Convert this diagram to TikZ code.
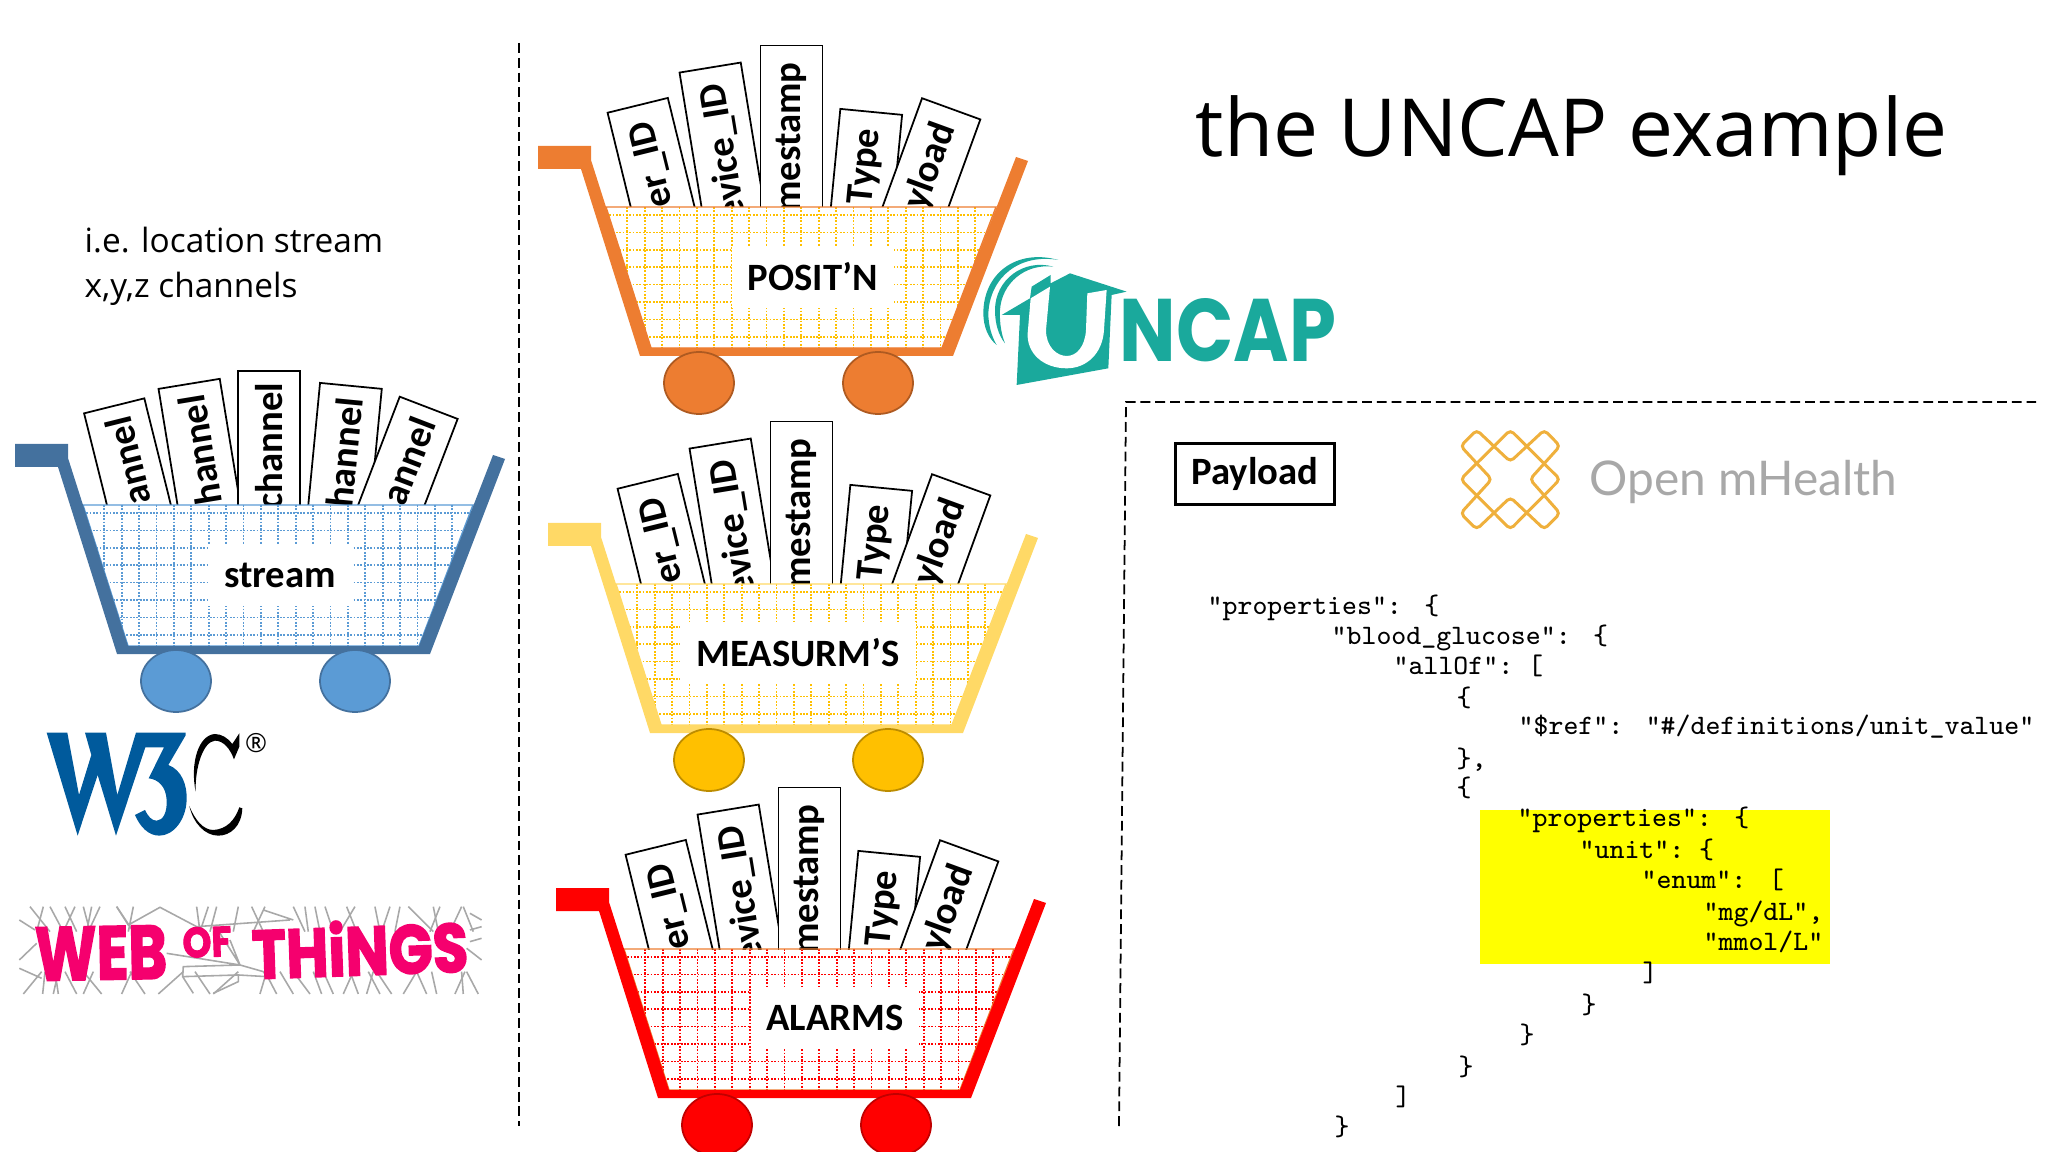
\documentclass[tikz,border=0pt]{standalone}
\usepackage{fontspec}
\setmainfont{Open Sans}
\newfontfamily\cartfont{Carlito}
\newfontfamily\logofont{Poppins}
\newfontfamily\wotfont[BoldFeatures={FakeBold=2.5}]{Poppins}
\newfontfamily\omhfont{Lato}

\definecolor{barblue}{HTML}{44719E}
\definecolor{wheelblue}{HTML}{5B9BD5}
\definecolor{barorange}{HTML}{ED7D31}
\definecolor{rimorange}{HTML}{AE5A21}
\definecolor{gridgold}{HTML}{FFC000}
\definecolor{barsand}{HTML}{FFD966}
\definecolor{rimgold}{HTML}{BC8C00}
\definecolor{rimred}{HTML}{C00000}
\definecolor{logoblue}{HTML}{005A9C}
\definecolor{logoteal}{HTML}{1AA99C}
\definecolor{logopink}{HTML}{F5006E}
\definecolor{meshgrey}{HTML}{A8A8A8}
\definecolor{omhgold}{HTML}{EFB03C}
\definecolor{hilite}{HTML}{FFFF00}

\newcommand{\widegap}{\hspace{0.8em}}

\tikzset{
    sheet/.style={draw=black, fill=white, line width=0.5pt, anchor=east, minimum height=0.62cm,
        inner ysep=0pt, text width=2.1cm, align=right,
        font=\cartfont\fontsize{11}{12}\selectfont\bfseries},
    cartlabel/.style={fill=white, inner sep=0pt, minimum height=0.62cm, font=\cartfont\fontsize{11}{12}\selectfont\bfseries},
    codeline/.style={anchor=base west, inner sep=0pt, font=\ttfamily\fontsize{8}{9}\selectfont},
    divider/.style={line width=0.5pt, dash pattern=on 2.8pt off 1.4pt}
}

% five sheets, clipped at the rim of the basket
\newcommand{\cartsheets}[4]{
    \begin{scope}
        \clip (0,250) rectangle (560,505);
        \foreach \n/\sx/\sy/\srot/\stxt in {#2} {
            \node[sheet, rotate=\srot, inner xsep=#4] (#1-\n) at ({\sx},{\sy+(#3)}) {\stxt};
        }
    \end{scope}
}

% args: bar, wheel, rim of wheel, grid, basket edge
\newcommand{\cartframe}[5]{
    \begin{scope}
        \clip (83,505) -- (473,505) -- (419,646) -- (128,646) -- cycle;
        \foreach \k in {0,...,7}
            \draw[#4, line width=0.5pt, dash pattern=on 0.5pt off 0.45pt] (83,513+17.4*\k) -- (473,513+17.4*\k);
        \foreach \k in {0,...,20}
            \draw[#4, line width=0.5pt, dash pattern=on 0.5pt off 0.45pt] (104.3+17.4*\k,505) -- (104.3+17.4*\k,646);
    \end{scope}
    \draw[#5, line width=0.4pt] (83,505) -- (473,505) -- (419,646) -- (128,646) -- cycle;
    \fill[#1] (15,444) -- (68,444) -- (68,458) -- (128,646) -- (419,646) -- (493,455) -- (505,459)
        -- (430,654) -- (117,654) -- (58,467) -- (15,467) -- cycle;
    \draw[#3, fill=#2, line width=0.5pt] (176,681) ellipse [x radius=35, y radius=31];
    \draw[#3, fill=#2, line width=0.5pt] (355,681) ellipse [x radius=35, y radius=31];
}

\begin{document}
\begin{tikzpicture}[x=0.01cm, y=-0.01cm]
    \useasboundingbox (0,0) rectangle (2048,1152);

    % Side texts and title
    \node[anchor=base west, inner sep=0pt, font=\fontsize{9.5}{10}\selectfont] (intro1) at (84,253) {i.e. location stream};
    \node[anchor=base west, inner sep=0pt, font=\fontsize{9.5}{10}\selectfont] (intro2) at (84,298) {x,y,z channels};
    \node[anchor=base west, inner sep=0pt, font=\fontsize{22.8}{24}\selectfont] (title) at (1195,157) {the UNCAP example};

    % Dividers
    \draw[divider] (519,43) -- (519,1126);
    \draw[divider] (1119,1126) -- (1126,402) -- (2036,402);

    % Stream cart
    \cartsheets{stream}{s1/114/405/104/annel, s2/189/383/99.3/hannel, s4/351/385/84.5/hannel, s3/269/370/90/channel, s5/429/407/69/annel}{0}{0.12cm}
    \cartframe{barblue}{wheelblue}{barblue}{wheelblue}{wheelblue}
    \node[cartlabel, minimum width=1.44cm] (streamlabel) at (280,575) {stream};

    % Data carts
    \foreach \cartid/\dx/\dy/\sdy/\barc/\wheelc/\rimc/\gridc/\edgec in {
        posit/523/-298/-2/barorange/barorange/rimorange/gridgold/barorange,
        meas/533/79/-3/barsand/gridgold/rimgold/gridgold/barsand,
        alarm/541/444/-2/red/red/rimred/red/barorange} {
        \begin{scope}[shift={(\dx,\dy)}]
            \cartsheets{\cartid}{s1/114.5/404.5/103.8/er\_ID, s2/187/366.7/99.3/evice\_ID, s4/348.3/411/84.5/Type, s3/268.5/344.7/90/mestamp, s5/428.5/408/70/yload}{\sdy}{0.17cm}
            \cartframe{\barc}{\wheelc}{\rimc}{\gridc}{\edgec}
        \end{scope}
    }
    \node[cartlabel, minimum width=1.62cm] (positlabel) at (813,277) {POSIT’N};
    \node[cartlabel, minimum width=2.35cm] (measlabel) at (798,653) {MEASURM’S};
    \node[cartlabel, minimum width=1.68cm] (alarmlabel) at (835,1018) {ALARMS};

    % W3C logo
    \begin{scope}[shift={(30,720)}, scale=0.3333]
        \fill[logoblue] (50,38) -- (112,38) -- (147,225) -- (184,105) -- (165,38) -- (228,38) -- (262,225) -- (318,38)
            -- (467,38) -- (467,46) -- (415,135) .. controls (455,150) and (472,195) .. (470,240)
            .. controls (468,300) and (430,347) .. (388,347) .. controls (355,347) and (330,320) .. (315,285)
            -- (345,270) .. controls (355,290) and (365,302) .. (380,302) .. controls (400,302) and (412,275) .. (410,240)
            .. controls (408,200) and (385,178) .. (356,175) -- (402,82) -- (346,82) -- (258,347) -- (203,165) -- (143,347) -- cycle;
        \fill[black] (497,215) .. controls (480,130) and (505,45) .. (555,42) .. controls (575,42) and (595,55) .. (607,72)
            -- (628,40) -- (628,80) -- (612,118) .. controls (600,85) and (580,62) .. (555,62) .. controls (520,65) and (495,140) .. (497,215) -- cycle;
        \fill[black] (478,258) .. controls (490,310) and (525,347) .. (565,347) .. controls (600,347) and (635,320) .. (637,265)
            -- (628,262) .. controls (615,300) and (590,328) .. (550,330) .. controls (520,330) and (495,300) .. (478,258) -- cycle;
    \end{scope}
    \node[inner sep=0pt, font=\fontsize{7.5}{8}\selectfont] (w3creg) at (256,743) {®};

    % Web of Things mesh and lettering
    \begin{scope}[shift={(0,700)}, scale=0.3333, meshgrey, line width=0.45pt]
        \foreach \xa/\xb in {90/150,130/110,150/190,195/230,225/190,250/270,275/260,300/265,350/400,400/385,
            590/600,625/600,650/630,715/700,755/790,795/760,880/915,915/925,945/960,975/1000,1040/1070,1065/1020,
            1125/1140,1170/1145,1200/1185,1225/1300,1300/1315,1320/1290,1385/1350,1390/1420} {
            \draw (\xa,620) -- (\xb,695);
        }
        \foreach \xa/\xb in {70/125,128/135,160/175,175/165,230/195,250/280,305/250,365/395,435/390,475/550,
            630/585,640/715,780/800,830/795,880/840,930/880,965/940,1000/970,1030/1060,1075/1050,1100/1120,1140/1105,
            1175/1130,1210/1250,1280/1250,1310/1295,1365/1395,1390/1385,1435/1400} {
            \draw (\xa,882) -- (\xb,815);
        }
        \draw (350,620) -- (385,675) -- (480,622) -- (590,680) -- (870,660) (790,630) -- (880,660);
        \draw (500,760) -- (720,795) -- (790,815) -- (800,830) -- (715,825) -- (548,830) -- (550,800) -- (720,795)
            (715,825) -- (715,845) -- (640,880) (548,830) -- (580,880) (660,700) -- (720,795) -- (690,720);
        \draw (58,660) -- (105,690) (58,780) -- (110,730) (58,805) -- (125,835) (1410,640) -- (1445,660)
            (1410,690) -- (1445,680) (1410,725) -- (1445,715) (1400,745) -- (1445,780);
    \end{scope}
    \node[inner sep=0pt, text=logopink, rotate=1] (wotweb) at (101,953) {\resizebox{1.32cm}{0.53cm}{\wotfont\bfseries WEB}};
    \node[inner sep=0pt, text=logopink, rotate=2] (wotof) at (207,942) {\resizebox{0.49cm}{0.30cm}{\wotfont\bfseries OF}};
    \node[inner sep=0pt, text=logopink, rotate=2] (wotthings) at (360,948) {\resizebox{2.16cm}{0.55cm}{\wotfont\bfseries THiNGS}};

    % UNCAP logo
    \begin{scope}[shift={(960,230)}, scale=0.3333, logoteal]
        \fill (295,90) .. controls (170,55) and (70,130) .. (70,250) .. controls (70,290) and (85,325) .. (110,345)
            .. controls (95,320) and (85,285) .. (85,250) .. controls (90,140) and (180,70) .. (295,90) -- cycle;
        \fill (280,110) .. controls (190,85) and (105,150) .. (105,240) .. controls (105,280) and (115,315) .. (135,340)
            .. controls (125,315) and (118,280) .. (120,240) .. controls (125,160) and (195,100) .. (280,110) -- cycle;
        \fill (125,255) -- (210,205) -- (215,170) -- (272,135) -- (272,160) -- (330,130) -- (500,185) -- (455,195)
            -- (445,415) -- (170,465) -- (180,255) -- cycle;
        \fill[white] (212,205) -- (270,170) -- (258,300) .. controls (258,350) and (290,378) .. (320,378)
            .. controls (350,378) and (375,350) .. (378,300) -- (382,190) -- (440,180) -- (432,300)
            .. controls (428,370) and (380,415) .. (320,415) .. controls (250,415) and (200,370) .. (203,310) -- cycle;
    \end{scope}
    \node[inner sep=0pt, text=logoteal] (uncapname) at (1228,330) {\resizebox{2.16cm}{0.63cm}{\logofont\bfseries NCAP}};

    % Payload panel
    \node[draw=black, line width=0.7pt, minimum width=1.59cm, minimum height=0.61cm, inner sep=0pt, font=\cartfont\fontsize{11}{12}\selectfont\bfseries] (payload) at (1255,474) {Payload};

    % Open mHealth logo
    \begin{scope}[shift={(1450,420)}, scale=0.3333, omhgold, line width=0.85pt, rounded corners=1.2pt]
        \draw (32,78) -- (80,30) -- (181,125) -- (283,30) -- (330,78) -- (240,178) -- (330,280) -- (283,328) -- (181,232)
            -- (80,328) -- (32,280) -- (125,178) -- cycle;
        \draw (32,178) -- (181,30) -- (330,178) -- (181,328) -- cycle;
    \end{scope}
    \node[anchor=base west, inner sep=0pt, text=meshgrey, font=\omhfont\fontsize{13.6}{14}\selectfont] (omhname) at (1589,495) {Open mHealth};

    % JSON listing
    \fill[hilite] (1480,810) rectangle (1830,964);
    \node[codeline] (code1) at (1207,614) {"properties":\widegap\{};
    \node[codeline] (code2) at (1331,644) {"blood\_glucose":\widegap\{};
    \node[codeline] (code3) at (1393,674) {"allOf":\ [};
    \node[codeline] (code4) at (1456,706) {\{};
    \node[codeline] (code5) at (1518,735) {"\$ref":\widegap"\#/definitions/unit\_value"};
    \node[codeline] (code6) at (1456,767) {\},};
    \node[codeline] (code7) at (1456,796) {\{};
    \node[codeline] (code8) at (1517,826) {"properties":\widegap\{};
    \node[codeline] (code9) at (1579,858) {"unit":\ \{};
    \node[codeline] (code10) at (1641,888) {"enum":\widegap[};
    \node[codeline] (code11) at (1703,920) {"mg/dL",};
    \node[codeline] (code12) at (1703,950) {"mmol/L”};
    \node[codeline] (code13) at (1642,981) {]};
    \node[codeline] (code14) at (1581,1013) {\}};
    \node[codeline] (code15) at (1519,1043) {\}};
    \node[codeline] (code16) at (1458,1075) {\}};
    \node[codeline] (code17) at (1395,1105) {]};
    \node[codeline] (code18) at (1334,1135) {\}};
\end{tikzpicture}
\end{document}
